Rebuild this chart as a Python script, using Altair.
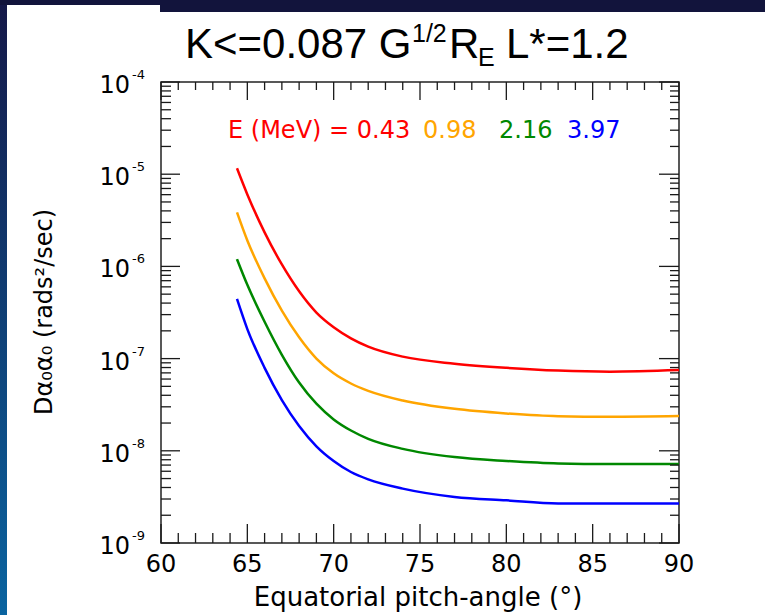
import altair as alt
import pandas as pd

# ---- data ----
pitch_deg = [64.4, 65, 66, 67, 68, 69, 70, 71, 72, 74, 77, 80, 83, 86, 90]
d_043 = [1.16e-5, 6.03e-6, 2.34e-6, 1.05e-6, 5.37e-7, 3.16e-7, 2.19e-7, 1.66e-7,
         1.35e-7, 1.05e-7, 8.81e-8, 7.94e-8, 7.41e-8, 7.21e-8, 7.50e-8]
d_098 = [3.86e-6, 1.91e-6, 7.41e-7, 3.31e-7, 1.70e-7, 1.00e-7, 6.92e-8, 5.37e-8,
         4.47e-8, 3.51e-8, 2.85e-8, 2.54e-8, 2.37e-8, 2.34e-8, 2.38e-8]
d_216 = [1.20e-6, 6.31e-7, 2.51e-7, 1.10e-7, 5.50e-8, 3.24e-8, 2.19e-8, 1.66e-8,
         1.35e-8, 1.05e-8, 8.55e-9, 7.76e-9, 7.29e-9, 7.19e-9, 7.19e-9]
d_397 = [4.44e-7, 2.09e-7, 7.94e-8, 3.55e-8, 1.86e-8, 1.12e-8, 7.76e-9, 5.89e-9,
         4.90e-9, 3.89e-9, 3.16e-9, 2.90e-9, 2.69e-9, 2.69e-9, 2.69e-9]
energies = ["0.43", "0.98", "2.16", "3.97"]
colors = ["#ff0000", "#ffa500", "#008800", "#0000ff"]

x_major = [60, 65, 70, 75, 80, 85, 90]
x_minor = [v for v in range(61, 90) if v % 5 != 0]
y_major = [1e-9, 1e-8, 1e-7, 1e-6, 1e-5, 1e-4]
y_exp = ["-9", "-8", "-7", "-6", "-5", "-4"]
mantissas = [2, 3, 4, 5, 6, 7, 8, 9]
y_minor = [m * d for d in y_major[:-1] for m in mantissas]

rows = []
for e, vals in zip(energies, [d_043, d_098, d_216, d_397]):
    for p, v in zip(pitch_deg, vals):
        rows.append({"pitch": p, "D": v, "E": e})
df = pd.DataFrame(rows)

W, H = 518, 461
FONT = "DejaVu Sans"
TFONT = "Liberation Sans"
INK = "#1a1a1a"

xs = alt.Scale(domain=[60, 90], nice=False, zero=False)
ys = alt.Scale(type="log", domain=[1e-9, 1e-4], nice=False)

lines = alt.Chart(df).mark_line(strokeWidth=2.5, interpolate="monotone").encode(
    x=alt.X("pitch:Q", scale=xs, axis=None),
    y=alt.Y("D:Q", scale=ys, axis=None),
    color=alt.Color("E:N", scale=alt.Scale(domain=energies, range=colors), legend=None),
)


def xticks(vals, length, top):
    d = pd.DataFrame({"v": vals})
    if top:
        yy, yy2 = alt.value(0), alt.value(length)
    else:
        yy, yy2 = alt.value(H), alt.value(H - length)
    return alt.Chart(d).mark_rule(color=INK, strokeWidth=1.3).encode(
        x=alt.X("v:Q", scale=xs, axis=None), y=yy, y2=yy2)


def yticks(vals, length, right):
    d = pd.DataFrame({"v": vals})
    if right:
        xx, xx2 = alt.value(W), alt.value(W - length)
    else:
        xx, xx2 = alt.value(0), alt.value(length)
    return alt.Chart(d).mark_rule(color=INK, strokeWidth=1.3).encode(
        y=alt.Y("v:Q", scale=ys, axis=None), x=xx, x2=xx2)


ticks = [
    xticks(x_major, 19, False), xticks(x_minor, 10, False),
    xticks(x_major, 18, True), xticks(x_minor, 8, True),
    yticks(y_major, 19, False), yticks(y_minor, 10, False),
    yticks(y_major, 20, True), yticks(y_minor, 9, True),
]

xlab = pd.DataFrame({"v": x_major, "lab": [str(v) for v in x_major]})
xlabels = alt.Chart(xlab).mark_text(align="center", baseline="middle", font=FONT,
                                    fontSize=24, color="#000").encode(
    x=alt.X("v:Q", scale=xs, axis=None), y=alt.value(H + 22), text="lab:N")

ylab = pd.DataFrame({"v": y_major, "exp": y_exp})
ten = alt.Chart(ylab).mark_text(text="10", align="right", baseline="middle", dy=4,
                                font=FONT, fontSize=24, color="#000").encode(
    y=alt.Y("v:Q", scale=ys, axis=None), x=alt.value(-31))
expo = alt.Chart(ylab).mark_text(align="left", baseline="middle", dy=-7,
                                 font=FONT, fontSize=13, color="#000").encode(
    y=alt.Y("v:Q", scale=ys, axis=None), x=alt.value(-29), text="exp:N")

one = pd.DataFrame({"k": [0]})


def txt(s, x, y, size, color="#000", font=FONT, align="left", baseline="middle", angle=0):
    kw = dict(text=s, align=align, baseline=baseline, font=font, fontSize=size, color=color)
    if angle:
        kw["angle"] = angle
    return alt.Chart(one).mark_text(**kw).encode(x=alt.value(x), y=alt.value(y))


texts = [
    txt("Equatorial pitch-angle (°)", 257, H + 55, 26, align="center"),
    txt("Dα₀α₀ (rads²/sec)", -116, 230, 24, align="center", angle=270),
    txt("E (MeV) = 0.43", 67, 49, 24, colors[0]),
    txt("0.98", 262, 49, 24, colors[1]),
    txt("2.16", 338, 49, 24, colors[2]),
    txt("3.97", 406, 49, 24, colors[3]),
    # title pieces (with superscript and subscript)
    txt("K<=0.087 G", 24, -24, 42, font=TFONT, baseline="alphabetic"),
    txt("1/2", 251, -40, 25, font=TFONT, baseline="alphabetic"),
    txt("R", 288, -24, 42, font=TFONT, baseline="alphabetic"),
    txt("E", 317, -16, 25, font=TFONT, baseline="alphabetic"),
    txt("L*=1.2", 345, -24, 42, font=TFONT, baseline="alphabetic"),
]

# slide background decoration (navy band at top, gradient strip at left)
grad = alt.LinearGradient(gradient="linear",
                          stops=[alt.GradientStop(color="#151848", offset=0),
                                 alt.GradientStop(color="#0a64a0", offset=1)],
                          x1=0, x2=0, y1=0, y2=1)
deco = [
    alt.Chart(one).mark_rect(color=grad).encode(
        x=alt.value(-161), x2=alt.value(-154), y=alt.value(-82), y2=alt.value(H + 72)),
    alt.Chart(one).mark_rect(color="#12143c").encode(
        x=alt.value(-161), x2=alt.value(W + 86), y=alt.value(-82), y2=alt.value(-77)),
    alt.Chart(one).mark_rect(color="#12143c").encode(
        x=alt.value(-1), x2=alt.value(W + 86), y=alt.value(-82), y2=alt.value(-70)),
]

chart = alt.layer(*deco, lines, *ticks, xlabels, ten, expo, *texts).properties(
    width=W, height=H,
    autosize=alt.AutoSizeParams(type="none"),
    padding={"left": 161, "top": 82, "right": 86, "bottom": 72},
    background="white",
).configure_view(stroke="#222", strokeWidth=1.5)

chart.save("out.html", embed_options={"renderer": "svg", "actions": False})
